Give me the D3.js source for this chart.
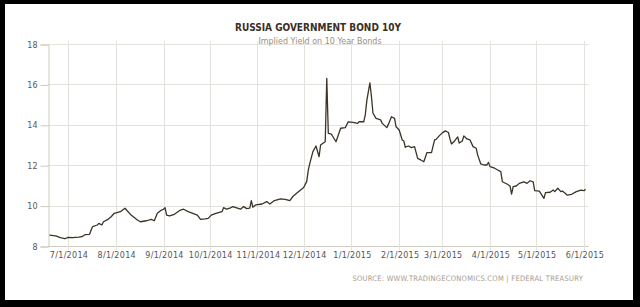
<!DOCTYPE html>
<html>
<head>
<meta charset="utf-8">
<script src="https://cdn.jsdelivr.net/npm/d3@7"></script>
<style>
  html, body { margin: 0; padding: 0; background: #000; }
  svg { display: block; }
</style>
</head>
<body>
<svg id="chart"></svg>
<script>
// yield readings, day by day
const dates = [
  "2014-06-19","2014-06-23","2014-06-26","2014-06-29","2014-07-01","2014-07-04","2014-07-08","2014-07-10",
  "2014-07-12","2014-07-15","2014-07-16","2014-07-17","2014-07-20","2014-07-21","2014-07-23","2014-07-24",
  "2014-07-27","2014-07-29","2014-07-31","2014-08-04","2014-08-07","2014-08-08","2014-08-11","2014-08-15",
  "2014-08-17","2014-08-21","2014-08-24","2014-08-26","2014-08-28","2014-08-30","2014-09-01","2014-09-02",
  "2014-09-03","2014-09-05","2014-09-08","2014-09-12","2014-09-14","2014-09-17","2014-09-20","2014-09-23",
  "2014-09-25","2014-09-28","2014-09-30","2014-10-02","2014-10-05","2014-10-09","2014-10-10","2014-10-12",
  "2014-10-14","2014-10-16","2014-10-19","2014-10-21","2014-10-23","2014-10-25","2014-10-27","2014-10-28",
  "2014-10-29","2014-10-31","2014-11-04","2014-11-07","2014-11-09","2014-11-12","2014-11-16","2014-11-19",
  "2014-11-22","2014-11-24","2014-11-27","2014-12-01","2014-12-03","2014-12-04","2014-12-05","2014-12-07",
  "2014-12-09","2014-12-11","2014-12-12","2014-12-14","2014-12-15","2014-12-16","2014-12-17","2014-12-19",
  "2014-12-20","2014-12-22","2014-12-25","2014-12-28","2014-12-30","2015-01-02","2015-01-05","2015-01-06",
  "2015-01-09","2015-01-10","2015-01-11","2015-01-13","2015-01-14","2015-01-15","2015-01-17","2015-01-20",
  "2015-01-21","2015-01-24","2015-01-25","2015-01-27","2015-01-29","2015-01-30","2015-02-01","2015-02-03",
  "2015-02-04","2015-02-05","2015-02-07","2015-02-09","2015-02-11","2015-02-13","2015-02-15","2015-02-17",
  "2015-02-19","2015-02-22","2015-02-24","2015-02-25","2015-02-27","2015-03-01","2015-03-03","2015-03-05",
  "2015-03-06","2015-03-07","2015-03-09","2015-03-11","2015-03-12","2015-03-14","2015-03-15","2015-03-17",
  "2015-03-19","2015-03-21","2015-03-23","2015-03-24","2015-03-26","2015-03-28","2015-03-30","2015-03-31",
  "2015-04-01","2015-04-04","2015-04-06","2015-04-08","2015-04-09","2015-04-12","2015-04-14","2015-04-15",
  "2015-04-16","2015-04-18","2015-04-20","2015-04-23","2015-04-25","2015-04-27","2015-04-29","2015-04-30",
  "2015-05-03","2015-05-06","2015-05-07","2015-05-10","2015-05-12","2015-05-13","2015-05-15","2015-05-17",
  "2015-05-18","2015-05-20","2015-05-21","2015-05-24","2015-05-27","2015-05-30","2015-06-01","2015-06-02"
];
const yields = [
  8.54, 8.50, 8.41, 8.36, 8.43, 8.41, 8.44, 8.46,
  8.56, 8.58, 8.79, 8.96, 9.04, 9.12, 9.04, 9.20,
  9.32, 9.45, 9.62, 9.70, 9.87, 9.78, 9.53, 9.29,
  9.20, 9.25, 9.32, 9.25, 9.62, 9.75, 9.82, 9.90,
  9.53, 9.49, 9.57, 9.78, 9.82, 9.70, 9.62, 9.53,
  9.32, 9.34, 9.37, 9.53, 9.62, 9.70, 9.90, 9.82,
  9.87, 9.95, 9.87, 9.82, 9.95, 9.85, 9.87, 10.25,
  9.92, 10.04, 10.08, 10.20, 10.08, 10.25, 10.33, 10.31,
  10.25, 10.45, 10.65, 10.90, 11.20, 11.76, 12.09, 12.67,
  12.95, 12.42, 13.00, 13.11, 13.16, 16.30, 13.58, 13.54,
  13.41, 13.16, 13.83, 13.86, 14.15, 14.12, 14.07, 14.15,
  14.15, 14.49, 15.20, 16.08, 15.40, 14.57, 14.32, 14.24,
  14.07, 13.86, 14.02, 14.40, 14.32, 13.90, 13.74, 13.25,
  13.20, 12.89, 12.95, 12.87, 12.92, 12.34, 12.26, 12.17,
  12.62, 12.62, 13.25, 13.28, 13.45, 13.60, 13.70, 13.62,
  13.30, 13.05, 13.20, 13.40, 13.10, 13.20, 13.45, 13.30,
  13.25, 12.92, 12.84, 12.50, 12.06, 12.01, 12.01, 12.14,
  11.93, 11.85, 11.76, 11.68, 11.18, 11.07, 10.97, 10.57,
  10.94, 10.97, 11.10, 11.18, 11.10, 11.23, 11.18, 10.74,
  10.72, 10.36, 10.64, 10.66, 10.77, 10.69, 10.86, 10.69,
  10.72, 10.60, 10.52, 10.56, 10.69, 10.77, 10.74, 10.81
];
const monthTicks = ["2014-07-01","2014-08-01","2014-09-01","2014-10-01","2014-11-01","2014-12-01",
  "2015-01-01","2015-02-01","2015-03-01","2015-04-01","2015-05-01","2015-06-01"];
const yTicks = [8, 10, 12, 14, 16, 18];

const width = 640, height = 307;
const parse = d3.utcParse("%Y-%m-%d");
const data = dates.map((d, i) => ({date: parse(d), value: yields[i]}));

const svg = d3.select("#chart")
    .attr("width", width)
    .attr("height", height);

// white card inside the black frame
svg.append("rect")
    .attr("x", 5).attr("y", 4)
    .attr("width", 628).attr("height", 296)
    .attr("fill", "#fff");

const x = d3.scaleUtc()
    .domain([parse("2014-06-18"), parse("2015-06-04")])
    .range([48, 588.6]);
const y = d3.scaleLinear()
    .domain([8, 18])
    .range([246, 44]);

const gridColor = "#e4e2dc";
const axisColor = "#cfcac0";

// horizontal grid
svg.append("g")
  .selectAll("line")
  .data(yTicks)
  .join("line")
    .attr("x1", 48).attr("x2", x.range()[1])
    .attr("y1", d => Math.round(y(d)) + 0.5)
    .attr("y2", d => Math.round(y(d)) + 0.5)
    .attr("stroke", d => d === 8 ? axisColor : gridColor);

// vertical grid
svg.append("g")
  .selectAll("line")
  .data(monthTicks)
  .join("line")
    .attr("x1", d => Math.round(x(parse(d))) + 0.5)
    .attr("x2", d => Math.round(x(parse(d))) + 0.5)
    .attr("y1", 41).attr("y2", 250)
    .attr("stroke", gridColor);

// left axis
const yAxis = svg.append("g")
    .attr("transform", "translate(48.5,0.5)")
    .call(d3.axisLeft(y).tickValues(yTicks).tickSize(8).tickPadding(3).tickFormat(d3.format("d")));
yAxis.select(".domain").attr("stroke", axisColor);
yAxis.selectAll(".tick line").attr("stroke", axisColor);
yAxis.selectAll("text")
    .attr("fill", "#555")
    .style("font", "8px 'DejaVu Sans', sans-serif");

// bottom labels
const xAxis = svg.append("g")
    .attr("transform", "translate(0.5,246.5)")
    .call(d3.axisBottom(x).tickValues(monthTicks.map(parse)).tickSize(0).tickPadding(6)
      .tickFormat(d3.utcFormat("%-m/%-d/%Y")));
xAxis.select(".domain").remove();
xAxis.selectAll("text")
    .attr("fill", "#555")
    .style("font", "8px 'DejaVu Sans', sans-serif")
    .style("letter-spacing", "0.3px");

// the series
svg.append("path")
    .datum(data)
    .attr("fill", "none")
    .attr("stroke", "#3a3327")
    .attr("stroke-width", 1.3)
    .attr("stroke-linejoin", "round")
    .attr("d", d3.line().x(d => x(d.date)).y(d => y(d.value)));

// titles
svg.append("text")
    .attr("x", 318).attr("y", 31)
    .attr("text-anchor", "middle")
    .attr("fill", "#3b2e25")
    .style("font", "bold 10px 'DejaVu Sans Condensed', 'DejaVu Sans', sans-serif")
    .text("RUSSIA GOVERNMENT BOND 10Y");

svg.append("text")
    .attr("x", 320).attr("y", 44)
    .attr("text-anchor", "middle")
    .attr("fill", "#a08e7c")
    .style("font", "8px 'DejaVu Sans', sans-serif")
    .text("Implied Yield on 10 Year Bonds");

svg.append("text")
    .attr("x", 583).attr("y", 281)
    .attr("text-anchor", "end")
    .attr("fill", "#ab9b8b")
    .style("font", "7.5px 'DejaVu Sans Condensed', 'DejaVu Sans', sans-serif")
    .style("letter-spacing", "0.25px")
    .text("SOURCE: WWW.TRADINGECONOMICS.COM  |  FEDERAL TREASURY");
</script>
</body>
</html>
